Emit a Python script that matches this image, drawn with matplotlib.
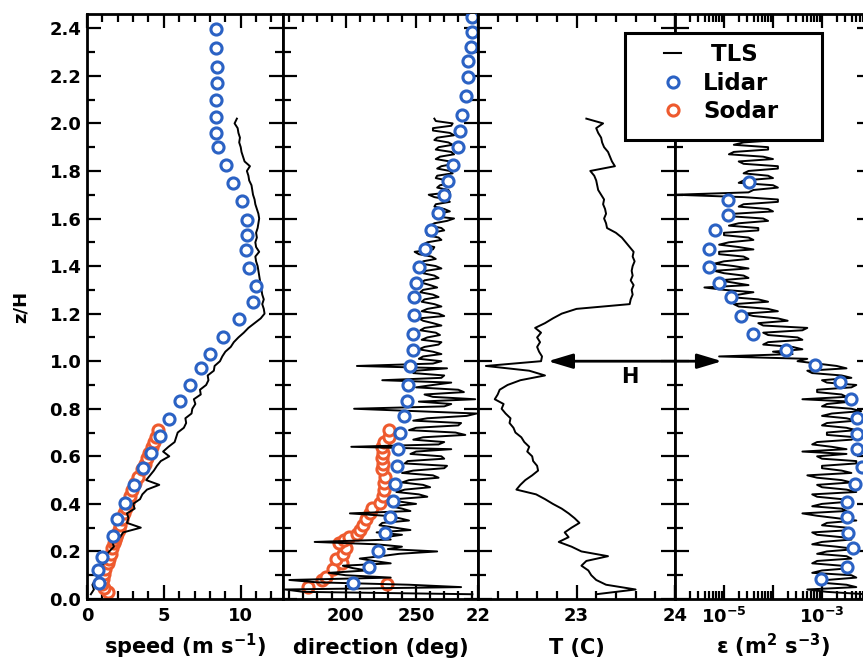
import numpy as np
import matplotlib
matplotlib.use('Agg')
import matplotlib.pyplot as plt
from matplotlib.ticker import MultipleLocator, FixedLocator, FuncFormatter, LogLocator, NullFormatter, FormatStrFormatter
from matplotlib.patches import Rectangle, ConnectionPatch
from matplotlib.lines import Line2D

plt.rcParams['font.family'] = ['DejaVu Sans']
plt.rcParams['font.weight'] = 'bold'
plt.rcParams['mathtext.fontset'] = 'custom'
plt.rcParams['mathtext.rm'] = 'DejaVu Sans:bold'
plt.rcParams['mathtext.it'] = 'DejaVu Sans:bold'
plt.rcParams['mathtext.bf'] = 'DejaVu Sans:bold'
plt.rcParams['mathtext.default'] = 'rm'

# ---- TLS profiles, coarse grid (speed, temperature)
tls_z = [0.02, 0.04, 0.06, 0.08, 0.10, 0.12, 0.14, 0.16, 0.18, 0.20,
         0.22, 0.24, 0.26, 0.28, 0.30, 0.32, 0.34, 0.36, 0.38, 0.40,
         0.42, 0.44, 0.46, 0.48, 0.50, 0.52, 0.54, 0.56, 0.58, 0.60,
         0.62, 0.64, 0.66, 0.68, 0.70, 0.72, 0.74, 0.76, 0.78, 0.80,
         0.82, 0.84, 0.86, 0.88, 0.90, 0.92, 0.94, 0.96, 0.98, 1.00,
         1.02, 1.04, 1.06, 1.08, 1.10, 1.12, 1.14, 1.16, 1.18, 1.20,
         1.22, 1.24, 1.26, 1.28, 1.30, 1.32, 1.34, 1.36, 1.38, 1.40,
         1.42, 1.44, 1.46, 1.48, 1.50, 1.52, 1.54, 1.56, 1.58, 1.60,
         1.62, 1.64, 1.66, 1.68, 1.70, 1.72, 1.74, 1.76, 1.78, 1.80,
         1.82, 1.84, 1.86, 1.88, 1.90, 1.92, 1.94, 1.96, 1.98, 2.00,
         2.02]

tls_speed = [0.25, 0.45, 0.35, 0.55, 0.75, 0.65, 0.95, 1.25, 1.15, 1.45,
             1.75, 1.65, 2.15, 2.35, 3.50, 2.60, 2.70, 2.60, 3.10, 3.00,
             3.45, 3.60, 3.90, 4.70, 3.85, 4.10, 4.35, 4.55, 4.80, 5.35,
             4.95, 5.30, 5.70, 5.80, 5.90, 6.30, 6.45, 6.40, 6.80, 6.85,
             7.05, 6.95, 7.40, 7.35, 7.75, 7.90, 7.85, 8.25, 8.30, 8.65,
             8.80, 9.00, 9.35, 9.55, 9.85, 10.20, 10.50, 10.90, 11.30, 11.55,
             11.50, 11.40, 11.50, 11.40, 11.35, 11.30, 11.25, 11.20, 11.15, 11.10,
             11.00, 10.95, 11.20, 11.00, 10.95, 11.05, 11.00, 11.10, 11.15, 11.20,
             11.15, 11.05, 10.95, 10.90, 10.80, 10.75, 10.70, 10.55, 10.50, 10.40,
             10.60, 10.25, 10.15, 10.05, 10.00, 9.90, 9.95, 9.85, 9.80, 9.60,
             9.75]

tls_temp = [23.20, 23.60, 23.30, 23.20, 23.15, 23.12, 23.05, 23.10, 23.32, 23.05,
            22.95, 22.82, 22.92, 22.88, 22.95, 23.03, 22.98, 22.92, 22.85, 22.76,
            22.68, 22.59, 22.39, 22.43, 22.48, 22.55, 22.61, 22.60, 22.56, 22.55,
            22.50, 22.52, 22.47, 22.44, 22.38, 22.36, 22.32, 22.33, 22.28, 22.24,
            22.26, 22.17, 22.20, 22.22, 22.30, 22.43, 22.68, 22.52, 22.08, 22.64,
            22.65, 22.62, 22.60, 22.63, 22.60, 22.64, 22.58, 22.68, 22.76, 22.85,
            23.00, 23.54, 23.55, 23.57, 23.56, 23.58, 23.55, 23.57, 23.56, 23.57,
            23.59, 23.57, 23.58, 23.54, 23.50, 23.46, 23.40, 23.31, 23.30, 23.28,
            23.30, 23.29, 23.27, 23.28, 23.25, 23.22, 23.21, 23.20, 23.18, 23.14,
            23.39, 23.36, 23.34, 23.32, 23.28, 23.26, 23.25, 23.22, 23.20, 23.27,
            23.10]

# ---- TLS profiles, fine grid (direction, dissipation)
tls_fine_z = [0.02, 0.03, 0.04, 0.05, 0.06, 0.07, 0.08, 0.09, 0.10, 0.11,
              0.12, 0.13, 0.14, 0.15, 0.16, 0.17, 0.18, 0.19, 0.20, 0.21,
              0.22, 0.23, 0.24, 0.25, 0.26, 0.27, 0.28, 0.29, 0.30, 0.31,
              0.32, 0.33, 0.34, 0.35, 0.36, 0.37, 0.38, 0.39, 0.40, 0.41,
              0.42, 0.43, 0.44, 0.45, 0.46, 0.47, 0.48, 0.49, 0.50, 0.51,
              0.52, 0.53, 0.54, 0.55, 0.56, 0.57, 0.58, 0.59, 0.60, 0.61,
              0.62, 0.63, 0.64, 0.65, 0.66, 0.67, 0.68, 0.69, 0.70, 0.71,
              0.72, 0.73, 0.74, 0.75, 0.76, 0.77, 0.78, 0.79, 0.80, 0.81,
              0.82, 0.83, 0.84, 0.85, 0.86, 0.87, 0.88, 0.89, 0.90, 0.91,
              0.92, 0.93, 0.94, 0.95, 0.96, 0.97, 0.98, 0.99, 1.00, 1.01,
              1.02, 1.03, 1.04, 1.05, 1.06, 1.07, 1.08, 1.09, 1.10, 1.11,
              1.12, 1.13, 1.14, 1.15, 1.16, 1.17, 1.18, 1.19, 1.20, 1.21,
              1.22, 1.23, 1.24, 1.25, 1.26, 1.27, 1.28, 1.29, 1.30, 1.31,
              1.32, 1.33, 1.34, 1.35, 1.36, 1.37, 1.38, 1.39, 1.40, 1.41,
              1.42, 1.43, 1.44, 1.45, 1.46, 1.47, 1.48, 1.49, 1.50, 1.51,
              1.52, 1.53, 1.54, 1.55, 1.56, 1.57, 1.58, 1.59, 1.60, 1.61,
              1.62, 1.63, 1.64, 1.65, 1.66, 1.67, 1.68, 1.69, 1.70, 1.71,
              1.72, 1.73, 1.74, 1.75, 1.76, 1.77, 1.78, 1.79, 1.80, 1.81,
              1.82, 1.83, 1.84, 1.85, 1.86, 1.87, 1.88, 1.89, 1.90, 1.91,
              1.92, 1.93, 1.94, 1.95, 1.96, 1.97, 1.98, 1.99, 2.00, 2.01,
              2.02]

tls_dir = [290, 170, 157, 282, 245, 180, 160, 232, 200, 188,
           215, 205, 198, 232, 220, 210, 225, 238, 265, 230,
           240, 222, 178, 232, 228, 240, 222, 246, 235, 224,
           226, 245, 238, 228, 203, 246, 240, 232, 250, 238,
           236, 258, 252, 236, 242, 260, 255, 240, 245, 266,
           262, 240, 248, 270, 272, 242, 244, 270, 268, 246,
           250, 275, 204, 266, 270, 248, 255, 285, 278, 245,
           250, 280, 282, 248, 258, 286, 293, 250, 206, 270,
           275, 252, 292, 262, 256, 284, 280, 250, 262, 275,
           226, 268, 270, 248, 250, 272, 208, 262, 268, 252,
           255, 268, 262, 252, 256, 266, 268, 254, 258, 267,
           264, 253, 256, 268, 262, 255, 252, 270, 266, 254,
           258, 268, 263, 254, 256, 266, 262, 253, 255, 265,
           260, 254, 256, 266, 263, 255, 257, 268, 264, 254,
           255, 264, 261, 252, 249, 262, 263, 255, 258, 268,
           266, 258, 261, 270, 268, 260, 263, 272, 277, 262,
           266, 274, 270, 263, 264, 274, 272, 263, 259, 274,
           273, 265, 267, 276, 272, 264, 265, 276, 274, 265,
           268, 277, 274, 264, 267, 277, 275, 264, 266, 276,
           273, 263, 265, 277, 274, 262, 262, 275, 276, 264,
           263]

# log10 of dissipation rate (m2 s-3)
tls_log_eps = [-2.1, -2.9, -3.3, -2.3, -2.5, -3.1, -2.9, -2.3, -2.4, -3.2,
               -3.0, -2.4, -2.6, -3.2, -3.1, -2.4, -2.5, -3.1, -2.9, -2.3,
               -2.7, -3.2, -3.0, -2.4, -2.6, -3.1, -3.2, -2.4, -2.5, -3.0,
               -2.9, -2.3, -2.7, -3.1, -3.4, -2.5, -2.6, -3.2, -3.0, -2.4,
               -2.6, -3.1, -3.2, -2.3, -2.5, -3.0, -3.1, -2.4, -2.6, -3.1,
               -3.3, -2.4, -2.6, -3.0, -3.0, -2.3, -2.3, -3.0, -3.1, -2.5,
               -3.4, -2.5, -2.8, -3.2, -3.1, -2.4, -2.3, -2.9, -2.9, -2.3,
               -2.5, -3.0, -2.9, -2.3, -2.5, -3.0, -2.8, -2.2, -2.4, -3.0,
               -2.9, -2.4, -3.4, -2.5, -2.6, -3.1, -3.1, -2.4, -2.3, -2.9,
               -3.0, -2.4, -2.6, -3.2, -3.3, -2.5, -2.7, -3.1, -3.5, -3.3,
               -5.1, -3.6, -4.0, -3.4, -3.6, -4.2, -4.1, -3.4, -3.5, -4.1,
               -4.2, -3.4, -3.3, -4.2, -4.3, -3.7, -3.9, -4.4, -4.6, -3.9,
               -4.1, -4.7, -4.8, -4.1, -4.3, -4.9, -4.7, -4.4, -5.0, -5.4,
               -4.5, -4.8, -5.1, -4.5, -4.6, -5.0, -5.2, -4.5, -4.8, -5.2,
               -5.0, -4.5, -4.6, -5.1, -5.1, -4.4, -4.7, -5.1, -4.9, -4.4,
               -4.5, -5.0, -5.0, -4.3, -4.3, -4.9, -4.7, -4.1, -4.2, -4.9,
               -4.8, -4.0, -4.1, -4.7, -4.6, -3.9, -3.9, -4.6, -6.0, -4.5,
               -4.4, -3.9, -4.0, -4.7, -4.6, -4.0, -4.1, -4.6, -4.5, -3.9,
               -3.9, -4.6, -4.7, -4.0, -4.2, -4.9, -4.8, -4.1, -4.1, -4.8,
               -4.6, -3.9, -4.3, -4.8, -4.7, -4.0, -4.2, -4.7, -4.5, -4.1,
               -4.4]

# ---- Lidar
lidar_speed_z = [0.066, 0.122, 0.178, 0.265, 0.335, 0.402, 0.480, 0.550, 0.615, 0.685,
                 0.759, 0.832, 0.899, 0.971, 1.032, 1.102, 1.179, 1.249, 1.315, 1.394,
                 1.469, 1.529, 1.592, 1.672, 1.749, 1.826, 1.900, 1.959, 2.027, 2.100,
                 2.169, 2.237, 2.316, 2.395]
lidar_speed = [0.76, 0.71, 0.97, 1.67, 1.97, 2.45, 3.05, 3.62, 4.18, 4.78,
               5.34, 6.04, 6.69, 7.42, 8.03, 8.85, 9.89, 10.80, 10.97, 10.54,
               10.32, 10.43, 10.41, 10.11, 9.50, 9.07, 8.55, 8.42, 8.42, 8.42,
               8.45, 8.45, 8.42, 8.42]

lidar_dir_z = [0.066, 0.136, 0.203, 0.276, 0.346, 0.413, 0.483, 0.559, 0.629, 0.696,
               0.769, 0.833, 0.902, 0.979, 1.049, 1.113, 1.193, 1.268, 1.329, 1.396,
               1.472, 1.550, 1.623, 1.697, 1.758, 1.824, 1.901, 1.966, 2.034, 2.115,
               2.197, 2.261, 2.321, 2.384, 2.447]
lidar_dir = [205.1, 216.4, 223.0, 227.7, 231.4, 233.3, 234.7, 236.6, 237.0, 238.5,
             241.3, 243.7, 244.1, 246.0, 247.9, 248.1, 248.6, 248.6, 250.0, 252.3,
             256.5, 260.8, 265.5, 269.7, 273.0, 276.3, 279.6, 281.0, 282.4, 285.2,
             286.6, 286.6, 288.9, 289.4, 289.9]

lidar_eps_z = [0.085, 0.136, 0.213, 0.279, 0.346, 0.409, 0.483, 0.556, 0.629, 0.693,
               0.763, 0.839, 0.913, 0.985, 1.046, 1.116, 1.189, 1.270, 1.329, 1.396,
               1.473, 1.550, 1.613, 1.679, 1.754]
lidar_log_eps = [-3.03, -2.48, -2.36, -2.46, -2.50, -2.50, -2.32, -2.19, -2.28, -2.28,
                 -2.28, -2.41, -2.63, -3.14, -3.74, -4.41, -4.65, -4.85, -5.10, -5.31,
                 -5.31, -5.18, -4.92, -4.92, -4.48]

# ---- Sodar
sodar_speed_z = [0.030, 0.045, 0.065, 0.085, 0.105, 0.125, 0.150, 0.167, 0.189, 0.213,
                 0.234, 0.248, 0.259, 0.273, 0.290, 0.311, 0.335, 0.360, 0.381, 0.402,
                 0.433, 0.458, 0.489, 0.514, 0.545, 0.567, 0.591, 0.615, 0.640, 0.661,
                 0.682, 0.710]
sodar_speed = [1.35, 1.10, 1.00, 1.05, 1.10, 1.20, 1.35, 1.45, 1.55, 1.65,
               1.75, 1.85, 1.90, 1.95, 2.05, 2.15, 2.30, 2.40, 2.55, 2.65,
               2.80, 2.95, 3.15, 3.35, 3.55, 3.75, 3.90, 4.05, 4.20, 4.35,
               4.50, 4.65]

sodar_dir_z = [0.049, 0.063, 0.080, 0.094, 0.125, 0.150, 0.167, 0.189, 0.213, 0.234,
               0.248, 0.259, 0.273, 0.290, 0.311, 0.335, 0.360, 0.381, 0.402, 0.433,
               0.458, 0.489, 0.514, 0.545, 0.567, 0.591, 0.615, 0.640, 0.661, 0.682,
               0.710]
sodar_dir = [173.5, 229.1, 183.5, 185.9, 191.0, 197.6, 192.9, 198.1, 200.4, 195.3,
             198.6, 202.3, 208.0, 210.3, 212.2, 214.5, 217.3, 218.7, 224.4, 226.3,
             227.5, 227.0, 228.2, 225.8, 226.8, 225.8, 226.8, 225.8, 227.5, 230.5,
             231.0]

blue = '#2b62c4'
red = '#ee5a2e'

fig = plt.figure(figsize=(8.63, 6.70), dpi=100)
W, H = 863.0, 670.0
bottom, height = 1 - 599 / H, (599 - 14) / H
lefts = [87, 283, 478, 675]
widths = [196, 195, 197, 196]
axes = [fig.add_axes([l / W, bottom, w / W, height]) for l, w in zip(lefts, widths)]
ax1, ax2, ax3, ax4 = axes

lidar_kw = dict(ls='none', marker='o', ms=8, mew=2.2, mec=blue, mfc='white', zorder=4)
sodar_kw = dict(ls='none', marker='o', ms=8, mew=2.2, mec=red, mfc='white', zorder=2)
tls_kw = dict(color='black', lw=1.4, zorder=3)

ax1.plot(sodar_speed, sodar_speed_z, **sodar_kw)
ax1.plot(tls_speed, tls_z, **tls_kw)
ax1.plot(lidar_speed, lidar_speed_z, **lidar_kw)

ax2.plot(sodar_dir, sodar_dir_z, **sodar_kw)
ax2.plot(tls_dir, tls_fine_z, **tls_kw)
ax2.plot(lidar_dir, lidar_dir_z, **lidar_kw)

ax3.plot(tls_temp, tls_z, **tls_kw)

ax4.plot(10.0 ** np.array(tls_log_eps), tls_fine_z, **tls_kw)
ax4.plot(10.0 ** np.array(lidar_log_eps), lidar_eps_z, **lidar_kw)

for ax in axes:
    ax.set_ylim(0, 2.46)
    ax.yaxis.set_major_locator(MultipleLocator(0.2))
    ax.yaxis.set_minor_locator(MultipleLocator(0.1))
    ax.tick_params(which='both', direction='in', top=True, right=True,
                   width=1.6, labelsize=13, pad=6)
    ax.tick_params(which='major', length=10)
    ax.tick_params(which='minor', length=6)
    for s in ax.spines.values():
        s.set_linewidth(2)
    if ax is not ax1:
        ax.tick_params(labelleft=False)

ax1.yaxis.set_major_formatter(FormatStrFormatter('%.1f'))
ax1.tick_params(axis='y', pad=4)

ax1.set_xlim(0, 12.75)
ax1.xaxis.set_major_locator(MultipleLocator(5))
ax1.xaxis.set_minor_locator(MultipleLocator(1))

ax2.set_xlim(155.5, 294)
ax2.xaxis.set_major_locator(MultipleLocator(50))
ax2.xaxis.set_minor_locator(MultipleLocator(10))

ax3.set_xlim(22, 24)
ax3.xaxis.set_major_locator(MultipleLocator(1))
ax3.xaxis.set_minor_locator(MultipleLocator(0.2))

ax4.set_xscale('log')
ax4.set_xlim(1e-6, 1e-2)
ax4.xaxis.set_major_locator(FixedLocator([1e-6, 1e-5, 1e-4, 1e-3, 1e-2]))
ax4.xaxis.set_minor_locator(LogLocator(base=10, subs=np.arange(2, 10), numticks=20))
ax4.xaxis.set_minor_formatter(NullFormatter())


def eps_label(v, pos):
    e = int(round(np.log10(v)))
    return r'$10^{%d}$' % e if e in (-5, -3) else ''


ax4.xaxis.set_major_formatter(FuncFormatter(eps_label))

lab_kw = dict(fontsize=15, fontweight='bold', va='baseline')
ax1.set_xlabel('speed (m s$^{-1}$)', **lab_kw)
ax2.set_xlabel('direction (deg)', **lab_kw)
ax3.set_xlabel('T (C)', **lab_kw)
ax4.set_xlabel('ε (m$^{2}$ s$^{-3}$)', **lab_kw)
for ax in axes:
    ax.xaxis.set_label_coords(0.5, -0.094)
ax1.set_ylabel('z/H', fontsize=13, fontweight='bold', labelpad=14)

# boundary-layer height arrow across T and epsilon panels
arrow = ConnectionPatch(xyA=(22.71, 1.0), coordsA=ax3.transData,
                        xyB=(9.1e-6, 1.0), coordsB=ax4.transData,
                        arrowstyle='<|-|>,head_length=1.5,head_width=0.45',
                        mutation_scale=10, lw=2, color='black')
fig.add_artist(arrow)
ax3.text(23.54, 0.933, 'H', ha='center', va='center', fontsize=15, fontweight='bold')

# legend box
fig.add_artist(Rectangle((625 / W, 1 - 140 / H), (822 - 625) / W, (140 - 33) / H,
                         transform=fig.transFigure, fc='white', ec='black', lw=2.2, zorder=3))
handles = [Line2D([], [], color='black', lw=1.5),
           Line2D([], [], ls='none', marker='o', ms=8, mew=2.2, mec=blue, mfc='white'),
           Line2D([], [], ls='none', marker='o', ms=8, mew=2.2, mec=red, mfc='white')]
fig.legend(handles, [' TLS', 'Lidar', 'Sodar'], loc='upper left',
           bbox_to_anchor=(664 / W, 1 - 43 / H), frameon=False,
           prop=dict(size=16.5, weight='bold'), handlelength=0.75,
           handletextpad=0.95, labelspacing=0.25, borderpad=0, borderaxespad=0)

fig.savefig('out.png', dpi=100)
